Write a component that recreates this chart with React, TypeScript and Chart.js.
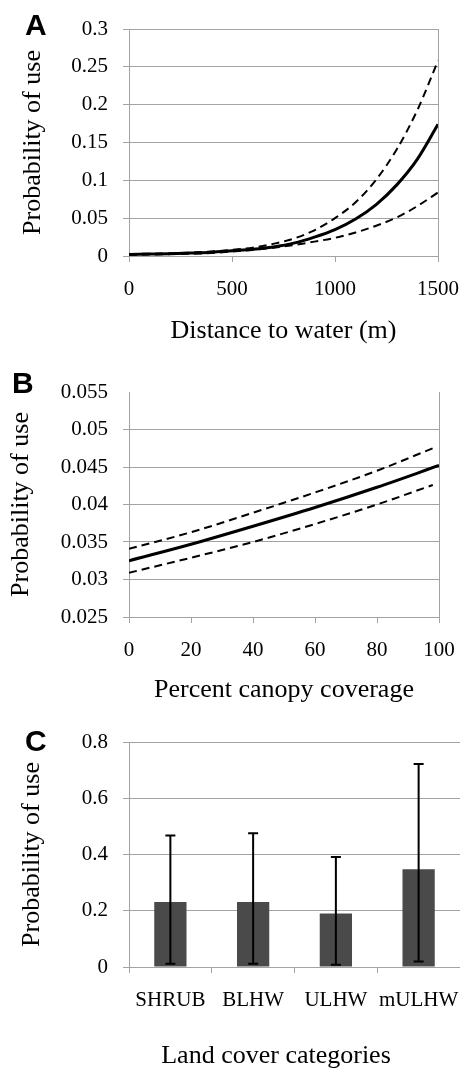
import React, { useEffect, useRef } from "react";
import { Chart, registerables } from "chart.js";

Chart.register(...registerables);

// ---------- Panel A: distance to water ----------
const distX = [0, 100, 200, 300, 400, 500, 600, 700, 800, 900, 1000, 1100, 1200, 1300, 1400, 1500];
const distMean = [0.002, 0.0025, 0.003, 0.004, 0.005, 0.007, 0.009, 0.012, 0.017, 0.025, 0.035, 0.049, 0.068, 0.094, 0.128, 0.174];
const distUpper = [0.0025, 0.003, 0.0035, 0.0045, 0.006, 0.008, 0.011, 0.016, 0.023, 0.034, 0.05, 0.071, 0.101, 0.141, 0.193, 0.258];
const distLower = [0.0015, 0.002, 0.0025, 0.003, 0.004, 0.006, 0.008, 0.011, 0.0145, 0.019, 0.024, 0.031, 0.04, 0.051, 0.066, 0.084];
const distXTicks = [0, 500, 1000, 1500];
const distYTicks = [0, 0.05, 0.1, 0.15, 0.2, 0.25, 0.3];

// ---------- Panel B: canopy coverage ----------
const canopyX = [0, 20, 40, 60, 80, 100];
const canopyMean = [0.0325, 0.0347, 0.0371, 0.0396, 0.0423, 0.0452];
const canopyCIX = [0, 20, 40, 60, 80, 98];
const canopyUpper = [0.0341, 0.0363, 0.0389, 0.0416, 0.0445, 0.0475];
const canopyLower = [0.0309, 0.0329, 0.035, 0.0374, 0.04, 0.0426];
const canopyXTicks = [0, 20, 40, 60, 80, 100];
const canopyYTicks = [0.025, 0.03, 0.035, 0.04, 0.045, 0.05, 0.055];

// ---------- Panel C: land cover ----------
const landCats = ["SHRUB", "BLHW", "ULHW", "mULHW"];
const landMean = [0.231, 0.231, 0.19, 0.348];
const landLower = [0.012, 0.012, 0.008, 0.02];
const landUpper = [0.468, 0.476, 0.391, 0.722];
const landYTicks = [0, 0.2, 0.4, 0.6, 0.8];

const Y_TITLE = "Probability of use";
const X_TITLE_A = "Distance to water (m)";
const X_TITLE_B = "Percent canopy coverage";
const X_TITLE_C = "Land cover categories";

const GRID = "#a3a3a3";
const SERIF = "'Liberation Serif', 'Times New Roman', serif";
const tickFont = { family: SERIF, size: 21 };
const titleFont = { family: SERIF, size: 26 };
const W = 460;

const pts = (xs: number[], ys: number[]) => xs.map((x, i) => ({ x, y: ys[i] }));

const zeroPad = (s: any) => {
  s.paddingLeft = 0;
  s.paddingRight = 0;
  s.paddingTop = 0;
  s.paddingBottom = 0;
};

function yAxis(min: number, max: number, ticksArr: number[], titlePad: number, hideTop: boolean) {
  return {
    type: "linear" as const,
    min,
    max,
    afterBuildTicks: (s: any) => {
      s.ticks = ticksArr.map((v) => ({ value: v }));
    },
    afterFit: (s: any) => {
      s.width = 129;
      zeroPad(s);
    },
    ticks: { color: "#000", font: tickFont, padding: 15, callback: (v: any) => String(v) },
    grid: {
      color: (ctx: any) => (hideTop && ctx.tick && ctx.tick.value === max ? "rgba(0,0,0,0)" : GRID),
      lineWidth: 1,
      tickLength: 6,
    },
    border: { display: true, color: GRID, width: 1 },
    title: {
      display: true,
      text: Y_TITLE,
      color: "#000",
      font: titleFont,
      padding: { top: titlePad, bottom: 0 },
    },
  };
}

function xLinear(min: number, max: number, ticksArr: number[], height: number, title: string, pad: number) {
  return {
    type: "linear" as const,
    min,
    max,
    afterBuildTicks: (s: any) => {
      s.ticks = ticksArr.map((v) => ({ value: v }));
    },
    afterFit: (s: any) => {
      s.height = height;
      zeroPad(s);
    },
    ticks: { color: "#000", font: tickFont, padding: 15, maxRotation: 0, callback: (v: any) => String(v) },
    grid: { drawOnChartArea: false, color: GRID, tickLength: 6 },
    border: { display: true, color: GRID, width: 1 },
    title: { display: true, text: title, color: "#000", font: titleFont, padding: { top: 0, bottom: pad } },
  };
}

const letterPlugin = (letter: string, x: number, baseline: number) => ({
  id: "letter" + letter,
  afterDraw(chart: any) {
    const ctx = chart.ctx;
    ctx.save();
    ctx.fillStyle = "#000";
    ctx.font = "bold 30px 'Liberation Sans', Arial, sans-serif";
    ctx.textBaseline = "alphabetic";
    ctx.textAlign = "left";
    ctx.fillText(letter, x, baseline);
    ctx.restore();
  },
});

const rightBorderPlugin = {
  id: "rightBorder",
  afterDraw(chart: any) {
    const { ctx, chartArea } = chart;
    ctx.save();
    ctx.strokeStyle = GRID;
    ctx.lineWidth = 1;
    ctx.beginPath();
    ctx.moveTo(Math.round(chartArea.right) + 0.5, chartArea.top);
    ctx.lineTo(Math.round(chartArea.right) + 0.5, chartArea.bottom);
    ctx.stroke();
    ctx.restore();
  },
};

const errorBarPlugin = {
  id: "errorBars",
  afterDatasetsDraw(chart: any) {
    const { ctx, scales } = chart;
    const xs = scales.x;
    const ys = scales.y;
    ctx.save();
    ctx.strokeStyle = "#000";
    ctx.lineWidth = 2;
    landCats.forEach((_, i) => {
      const x = xs.getPixelForValue(i);
      const yl = ys.getPixelForValue(landLower[i]);
      const yu = ys.getPixelForValue(landUpper[i]);
      ctx.beginPath();
      ctx.moveTo(x, yl);
      ctx.lineTo(x, yu);
      ctx.moveTo(x - 5, yl);
      ctx.lineTo(x + 5, yl);
      ctx.moveTo(x - 5, yu);
      ctx.lineTo(x + 5, yu);
      ctx.stroke();
    });
    ctx.restore();
  },
};

const xTitleCPlugin = {
  id: "xTitleC",
  afterDraw(chart: any) {
    const ctx = chart.ctx;
    ctx.save();
    ctx.fillStyle = "#000";
    ctx.font = `26px ${SERIF}`;
    ctx.textAlign = "center";
    ctx.textBaseline = "alphabetic";
    ctx.fillText(X_TITLE_C, 276, chart.height - 9);
    ctx.restore();
  },
};

const solid = { borderColor: "#000", borderWidth: 3, pointRadius: 0, fill: false, cubicInterpolationMode: "monotone" as const };
const dashed = { borderColor: "#000", borderWidth: 2, borderDash: [8, 5], pointRadius: 0, fill: false, cubicInterpolationMode: "monotone" as const };

function useChart(ref: React.RefObject<HTMLCanvasElement | null>, make: () => any) {
  useEffect(() => {
    if (!ref.current) return;
    const chart = new Chart(ref.current, make());
    return () => chart.destroy();
  }, []);
}

const baseOpts = {
  responsive: false,
  animation: false as const,
  devicePixelRatio: 1,
  plugins: { legend: { display: false }, tooltip: { enabled: false } },
};

export default function App() {
  const refA = useRef<HTMLCanvasElement>(null);
  const refB = useRef<HTMLCanvasElement>(null);
  const refC = useRef<HTMLCanvasElement>(null);

  const HA = 350;
  const HB = 360;
  const HC = 362;

  useChart(refA, () => ({
    type: "line",
    data: {
      datasets: [
        { ...dashed, data: pts(distX, distUpper) },
        { ...dashed, data: pts(distX, distLower) },
        { ...solid, data: pts(distX, distMean) },
      ],
    },
    options: {
      ...baseOpts,
      layout: { padding: { top: 29, right: 22, left: 0, bottom: 0 } },
      scales: {
        x: xLinear(0, 1500, distXTicks, HA - 256, X_TITLE_A, 3),
        y: yAxis(0, 0.3, distYTicks, 18, false),
      },
    },
    plugins: [rightBorderPlugin, letterPlugin("A", 25, 35)],
  }));

  useChart(refB, () => ({
    type: "line",
    data: {
      datasets: [
        { ...dashed, data: pts(canopyCIX, canopyUpper) },
        { ...dashed, data: pts(canopyCIX, canopyLower) },
        { ...solid, data: pts(canopyX, canopyMean) },
      ],
    },
    options: {
      ...baseOpts,
      layout: { padding: { top: 42, right: 21, left: 0, bottom: 0 } },
      scales: {
        x: xLinear(0, 100, canopyXTicks, HB - 267, X_TITLE_B, 4),
        y: yAxis(0.025, 0.055, canopyYTicks, 6, true),
      },
    },
    plugins: [rightBorderPlugin, letterPlugin("B", 12, 43)],
  }));

  useChart(refC, () => ({
    type: "bar",
    data: {
      labels: landCats,
      datasets: [
        {
          data: landMean,
          backgroundColor: "#4a4a4a",
          borderWidth: 0,
          barPercentage: 0.39,
          categoryPercentage: 1,
        },
      ],
    },
    options: {
      ...baseOpts,
      layout: { padding: { top: 32, right: 0, left: 0, bottom: 0 } },
      scales: {
        x: {
          type: "category",
          offset: true,
          afterFit: (s: any) => {
            s.height = HC - 257;
            zeroPad(s);
          },
          ticks: { color: "#000", font: tickFont, padding: 15, maxRotation: 0, autoSkip: false },
          grid: { offset: true, drawOnChartArea: false, color: GRID, tickLength: 6 },
          border: { display: true, color: GRID, width: 1 },
          title: { display: false },
        },
        y: yAxis(0, 0.8, landYTicks, 17, false),
      },
    },
    plugins: [errorBarPlugin, xTitleCPlugin, letterPlugin("C", 25, 41)],
  }));

  return (
    <div style={{ position: "absolute", left: 0, top: 0, width: W, height: 1069, background: "#fff", overflow: "hidden" }}>
      <canvas ref={refA} width={W} height={HA} style={{ position: "absolute", left: 0, top: 0 }} />
      <canvas ref={refB} width={W} height={HB} style={{ position: "absolute", left: 0, top: 350 }} />
      <canvas ref={refC} width={W} height={HC} style={{ position: "absolute", left: 0, top: 710 }} />
    </div>
  );
}
